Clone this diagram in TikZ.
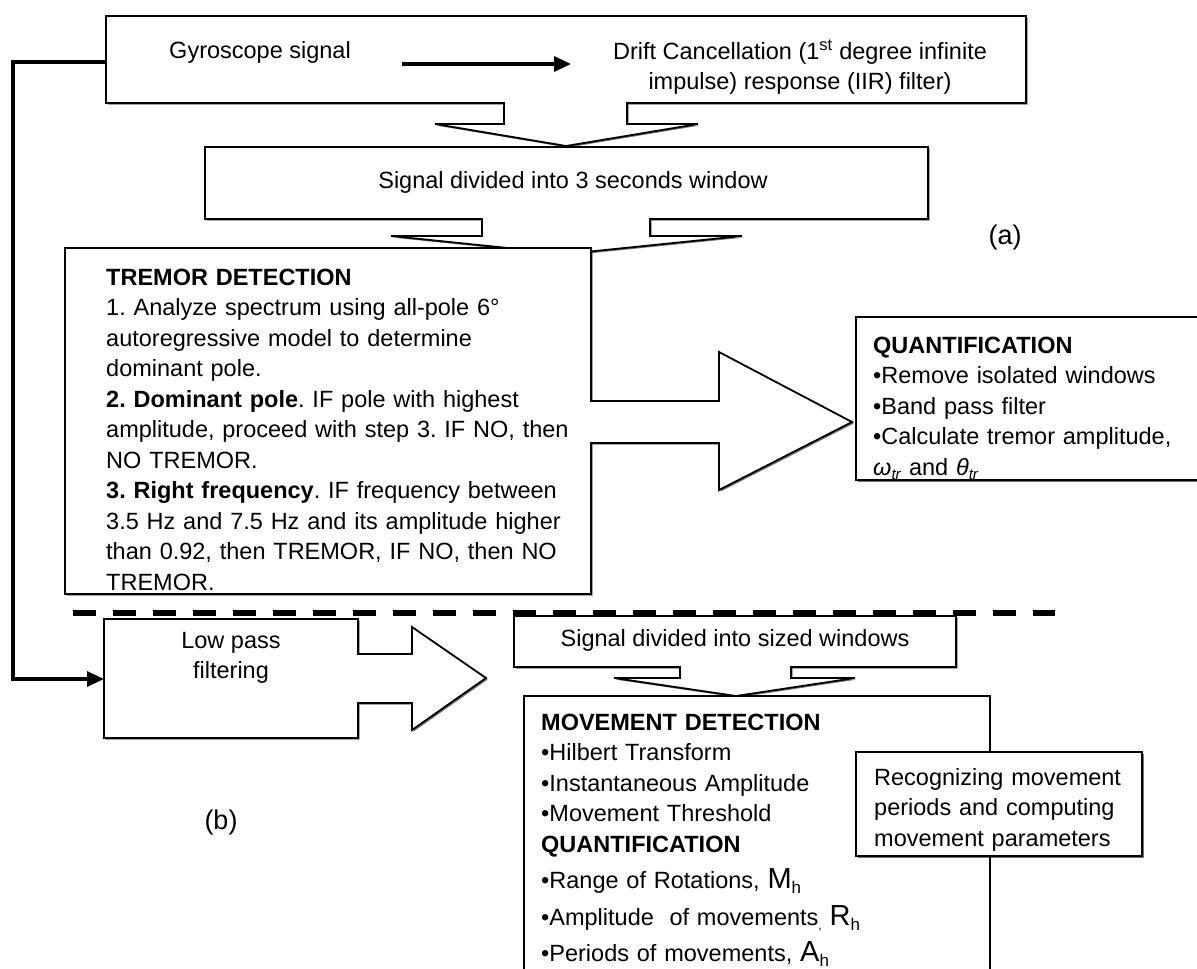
\documentclass[tikz,border=0pt]{standalone}
\usepackage{fontspec}
\setmainfont{Liberation Sans}
\usetikzlibrary{arrows.meta,shadows}
\frenchspacing
\begin{document}
\begin{tikzpicture}[x=1pt,y=-1pt,
  box/.style={draw=black, line width=1.8pt, fill=white, line join=miter,
    drop shadow={shadow xshift=1.6pt, shadow yshift=-1.6pt, opacity=0.55, fill=black}},
  plainbox/.style={draw=black, line width=1.8pt, fill=white, line join=miter},
  txt/.style={font=\fontsize{23.5}{30.5}\selectfont, inner sep=0pt},
  blk/.style={txt, align=left, anchor=base west},
  lbl/.style={font=\fontsize{27}{30}\selectfont, inner sep=0pt},
  conn/.style={line width=3.2pt, line join=miter, -{Triangle[length=17pt,width=15pt]}},
  sep/.style={line width=6pt, dash pattern=on 23pt off 17pt}]
\useasboundingbox (0,0) rectangle (1197,969);

% top box with down arrow
\path[box] (106,16) -- (1026,16) -- (1026,103) -- (627,103) -- (627,124) -- (698,124)
  -- (566,146) -- (435,124) -- (504,124) -- (504,103) -- (106,103) -- cycle;
% 3 seconds window box with down arrow
\path[box] (205,147) -- (928,147) -- (928,219) -- (650,219) -- (650,236) -- (742,236)
  -- (566,254) -- (391,236) -- (482,236) -- (482,219) -- (205,219) -- cycle;
% tremor detection box with right arrow
\path[box] (65,248) -- (591,248) -- (591,401) -- (719,401) -- (719,352) -- (852,422)
  -- (719,490) -- (719,443) -- (591,443) -- (591,594) -- (65,594) -- cycle;
% quantification box
\path[box] (856,317) rectangle (1210,480);
% low pass filtering box with right arrow
\path[box] (104,619) -- (358,619) -- (358,654) -- (412,654) -- (412,627) -- (486,678)
  -- (412,730) -- (412,703) -- (358,703) -- (358,738) -- (104,738) -- cycle;
% sized windows box with down arrow
\path[box] (514,616) -- (956,616) -- (956,667) -- (791,667) -- (791,678) -- (855,678)
  -- (736,696) -- (614,678) -- (680,678) -- (680,667) -- (514,667) -- cycle;
% movement detection box
\path[plainbox] (524,696) rectangle (990,1000);
% recognizing box
\path[box] (856,752) rectangle (1142,856);

% separator
\coordinate (dashL) at (73,613);
\coordinate (dashR) at (1055,613);
\draw[sep] (dashL) -- (dashR);

% texts
\node[txt] (gyro) at (260,52) {Gyroscope signal};
\node[txt, align=center] (drift) at (800,67) {Drift Cancellation (1\textsuperscript{st} degree infinite\\impulse) response (IIR) filter)};
\node[txt] (win3) at (573,182) {Signal divided into 3 seconds window};
\node[blk, text width=500pt] (trem) at (106,285) {\textbf{TREMOR DETECTION}\\
1. Analyze spectrum using all-pole 6°\\
autoregressive model to determine\\
dominant pole.\\
\textbf{2. Dominant pole}. IF pole with highest\\
amplitude, proceed with step 3. IF NO, then\\
NO TREMOR.\\
\textbf{3. Right frequency}. IF frequency between\\
3.5 Hz and 7.5 Hz and its amplitude higher\\
than 0.92, then TREMOR, IF NO, then NO\\
TREMOR.};
\node[blk, text width=320pt] (quant) at (873,353) {\textbf{QUANTIFICATION}\\
•Remove isolated windows\\
•Band pass filter\\
•Calculate tremor amplitude,\\
\textit{ω}\raisebox{-4pt}{\fontsize{15}{15}\selectfont\textit{tr}} and \textit{θ}\raisebox{-4pt}{\fontsize{15}{15}\selectfont\textit{tr}}};
\node[txt, align=center] (lowpass) at (231,658) {Low pass\\filtering};
\node[txt] (sized) at (735,640) {Signal divided into sized windows};
\node[blk, text width=440pt] (move) at (541,730) {\textbf{MOVEMENT DETECTION}\\
•Hilbert Transform\\
•Instantaneous Amplitude\\
•Movement Threshold\\
\textbf{QUANTIFICATION}\\[6pt]
•Range of Rotations, {\fontsize{29}{29}\selectfont M}\raisebox{-5pt}{\fontsize{17}{17}\selectfont h}\\[6pt]
•Amplitude\ \ of movements\raisebox{-4pt}{\fontsize{12}{12}\selectfont ,} {\fontsize{29}{29}\selectfont R}\raisebox{-5pt}{\fontsize{17}{17}\selectfont h}\\[6pt]
•Periods of movements, {\fontsize{29}{29}\selectfont A}\raisebox{-5pt}{\fontsize{17}{17}\selectfont h}};
\node[blk, text width=280pt] (recog) at (874,785) {Recognizing movement\\
periods and computing\\
movement parameters};
\node[lbl] (la) at (1005,238) {(a)};
\node[lbl] (lb) at (221,823) {(b)};

% connectors
\coordinate (ga) at (402,64);
\coordinate (gb) at (571,64);
\draw[conn] (ga) -- (gb);
\coordinate (fbA) at (106,62);
\coordinate (fbB) at (104,679);
\draw[conn] (fbA) -- ++(-93,0) |- (fbB);
\end{tikzpicture}
\end{document}
